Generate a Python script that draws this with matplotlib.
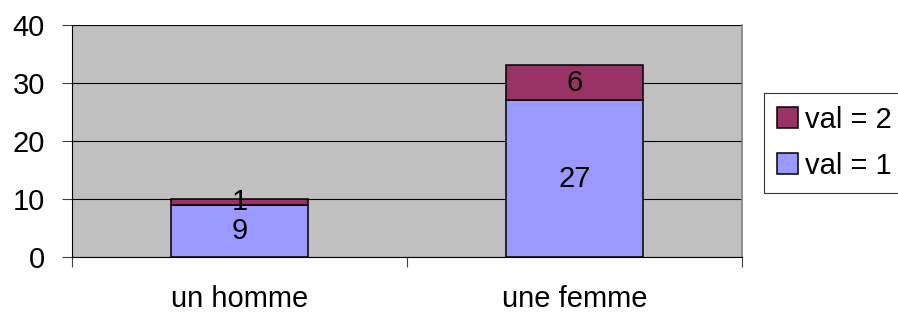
import matplotlib
matplotlib.use("Agg")
import matplotlib.pyplot as plt
import numpy as np

categories = ["un homme", "une femme"]
val1 = [9, 27]
val2 = [1, 6]
series_labels = ["val = 1", "val = 2"]
yticks = [0, 10, 20, 30, 40]

plt.rcParams['font.family'] = ['Liberation Sans', 'DejaVu Sans']
FS = 21

fig = plt.figure(figsize=(8.98, 3.17), dpi=100)
ax = fig.add_axes([72/898, 1-257/317, (742-72)/898, (257-24.5)/317])
ax.set_facecolor('#C0C0C0')

x = np.arange(len(categories))
w = 0.41
c1 = '#9999FF'
c2 = '#993366'
b1 = ax.bar(x, val1, w, color=c1, edgecolor='black', linewidth=1.1, label=series_labels[0], zorder=3)
b2 = ax.bar(x, val2, w, bottom=val1, color=c2, edgecolor='black', linewidth=1.1, label=series_labels[1], zorder=3)

for i in range(len(categories)):
    ax.text(x[i], val1[i]/2, str(val1[i]), ha='center', va='center', fontsize=FS, zorder=4)
    ax.text(x[i], val1[i] + val2[i]/2, str(val2[i]), ha='center', va='center', fontsize=FS, zorder=4)

ax.set_xlim(-0.5, 1.5)
ax.set_ylim(0, 40)
ax.set_yticks(yticks)
ax.set_yticklabels([str(v) for v in yticks], fontsize=FS)
ax.yaxis.grid(True, color='black', linewidth=0.8, zorder=1)
ax.set_axisbelow(True)

ax.set_xticks([-0.5, 0.5, 1.5])
ax.set_xticklabels(['', '', ''])
ax.set_xticks(x, minor=True)
ax.set_xticklabels(categories, minor=True, fontsize=FS)
ax.tick_params(axis='x', which='major', direction='out', length=7.5, width=0.8, color='#404040')
ax.tick_params(axis='x', which='minor', length=0, pad=20)
ax.tick_params(axis='y', direction='out', length=7.5, width=0.8, pad=12, color='#404040')

ax.spines['top'].set_visible(False)
ax.spines['right'].set_color('#808080')
ax.spines['right'].set_linewidth(1.2)
ax.spines['left'].set_color('black')
ax.spines['left'].set_linewidth(0.8)
ax.spines['bottom'].set_color('black')
ax.spines['bottom'].set_linewidth(0.8)

handles = [b2, b1]
leg = fig.legend(handles, [series_labels[1], series_labels[0]], loc='upper left',
                 bbox_to_anchor=(764/898, 1-92.7/317), fontsize=FS, frameon=True,
                 fancybox=False, edgecolor='black', handlelength=0.7, handleheight=0.7,
                 handletextpad=0.25, borderpad=0.45, labelspacing=0.62, borderaxespad=0)
leg.get_frame().set_linewidth(0.8)

fig.savefig('out.png', dpi=100)
